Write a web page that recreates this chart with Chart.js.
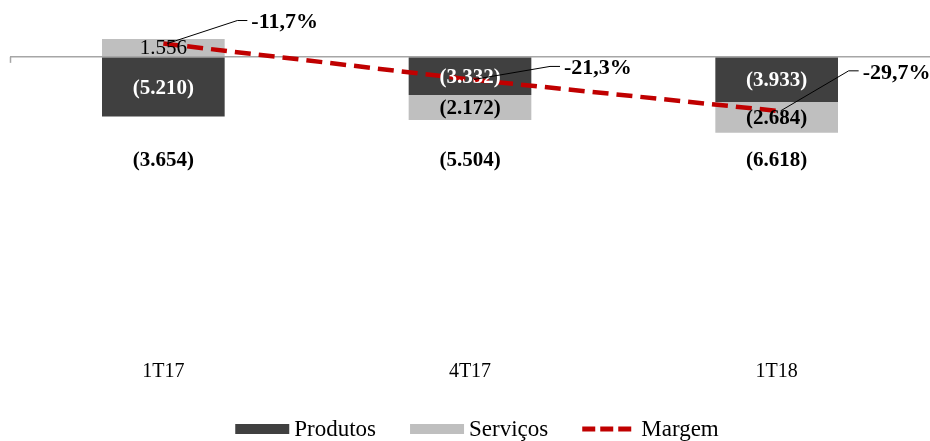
<!DOCTYPE html>
<html>
<head>
<meta charset="utf-8">
<script src="https://cdn.jsdelivr.net/npm/chart.js@4"></script>
<style>
  html, body { margin: 0; padding: 0; background: #fff; overflow: hidden; }
</style>
</head>
<body>
<canvas id="margemChart" width="930" height="441"></canvas>
<script>
const categories = ['1T17', '4T17', '1T18'];
const produtos = [-5210, -3332, -3933.4];
const servicos = [1556, -2172, -2684.4];
const margem = [-11.7, -21.3, -29.7];

const serif = 'Liberation Serif';

function fmtNum(v) {
  const s = String(Math.round(Math.abs(v))).replace(/\B(?=(\d{3})+(?!\d))/g, '.');
  return v < 0 ? '(' + s + ')' : s;
}
function fmtPct(v) {
  return v.toFixed(1).replace('.', ',') + '%';
}

// labels for the bars, totals, margin line and the legend
const labelPlugin = {
  id: 'labels',
  afterDatasetsDraw(chart) {
    const ctx = chart.ctx;
    const y = chart.scales.y;
    const area = chart.chartArea;
    const zero = y.getPixelForValue(0);
    ctx.save();

    // small tick at the left end of the zero line
    ctx.strokeStyle = '#A6A6A6';
    ctx.lineWidth = 1.5;
    ctx.beginPath();
    ctx.moveTo(area.left + 0.5, zero);
    ctx.lineTo(area.left + 0.5, zero + 6);
    ctx.stroke();

    ctx.textAlign = 'center';
    ctx.textBaseline = 'middle';

    [[0, '#FFFFFF'], [1, '#000000']].forEach(([idx, color]) => {
      const meta = chart.getDatasetMeta(idx);
      const data = chart.data.datasets[idx].data;
      meta.data.forEach((bar, i) => {
        const v = data[i];
        ctx.fillStyle = color;
        ctx.font = (v < 0 ? 'bold ' : '') + '21px "' + serif + '"';
        ctx.fillText(fmtNum(v), bar.x, (bar.y + bar.base) / 2 + 1);
      });
    });

    // totals under the bars
    ctx.fillStyle = '#000';
    ctx.font = 'bold 21px "' + serif + '"';
    chart.getDatasetMeta(0).data.forEach((bar, i) => {
      ctx.fillText(fmtNum(produtos[i] + servicos[i]), bar.x, zero + 104);
    });

    // margin labels with leader lines
    const offsets = [[88, -21], [94, -11], [86, -38]];
    chart.getDatasetMeta(2).data.forEach((pt, i) => {
      const lx = pt.x + offsets[i][0];
      const ly = pt.y + offsets[i][1];
      ctx.strokeStyle = '#000';
      ctx.lineWidth = 1;
      ctx.beginPath();
      ctx.moveTo(pt.x + 4, pt.y);
      ctx.lineTo(lx - 14, ly - 2);
      ctx.lineTo(lx - 4, ly - 2);
      ctx.stroke();
      ctx.textAlign = 'left';
      ctx.fillStyle = '#000';
      ctx.font = 'bold 22px "' + serif + '"';
      ctx.fillText(fmtPct(margem[i]), lx, ly);
    });

    // legend
    ctx.font = '23px "' + serif + '"';
    const items = chart.data.datasets.map(d => ({ d, w: ctx.measureText(d.label).width }));
    const sym = 54, gap = 5, spacing = 34;
    const total = items.reduce((a, it) => a + sym + gap + it.w, 0) + spacing * (items.length - 1);
    let x = chart.width / 2 + 12 - total / 2;
    const ly = 429;
    items.forEach(it => {
      if (it.d.type === 'line') {
        ctx.strokeStyle = it.d.borderColor;
        ctx.lineWidth = 5;
        ctx.setLineDash([13, 5]);
        ctx.beginPath();
        ctx.moveTo(x, ly);
        ctx.lineTo(x + sym, ly);
        ctx.stroke();
        ctx.setLineDash([]);
      } else {
        ctx.fillStyle = it.d.backgroundColor;
        ctx.fillRect(x, ly - 5, sym, 10);
      }
      ctx.fillStyle = '#000';
      ctx.textAlign = 'left';
      ctx.fillText(it.d.label, x + sym + gap, ly + 1);
      x += sym + gap + it.w + spacing;
    });
    ctx.restore();
  }
};

new Chart(document.getElementById('margemChart'), {
  type: 'bar',
  data: {
    labels: categories,
    datasets: [{
      label: 'Produtos',
      data: produtos,
      backgroundColor: '#404040',
      borderWidth: 0,
      stack: 's',
      order: 1,
      categoryPercentage: 1,
      barPercentage: 0.4
    }, {
      label: 'Serviços',
      data: servicos,
      backgroundColor: '#BFBFBF',
      borderWidth: 0,
      stack: 's',
      order: 1,
      categoryPercentage: 1,
      barPercentage: 0.4
    }, {
      label: 'Margem',
      type: 'line',
      data: margem,
      yAxisID: 'y1',
      borderColor: '#C00000',
      backgroundColor: '#C00000',
      borderWidth: 4.5,
      borderDash: [16, 8],
      pointRadius: 0,
      tension: 0,
      order: 0
    }]
  },
  options: {
    responsive: false,
    animation: false,
    layout: { padding: { left: 10, right: 0, top: 11, bottom: 56 } },
    plugins: {
      tooltip: { enabled: false },
      legend: { display: false }
    },
    scales: {
      x: {
        stacked: true,
        grid: { display: false },
        border: { display: false },
        ticks: { padding: -3, color: '#000', font: { family: serif, size: 20 } },
        afterFit(s) { s.height = 30; }
      },
      y: {
        stacked: true,
        min: -26000,
        max: 4000,
        ticks: { display: false },
        border: { display: false },
        grid: {
          drawTicks: false,
          lineWidth: 1.5,
          color: c => c.tick.value === 0 ? '#A6A6A6' : 'rgba(0,0,0,0)'
        },
        afterFit(s) { s.width = 0; }
      },
      y1: {
        display: false,
        min: -95,
        max: -3
      }
    }
  },
  plugins: [labelPlugin]
});
</script>
</body>
</html>
